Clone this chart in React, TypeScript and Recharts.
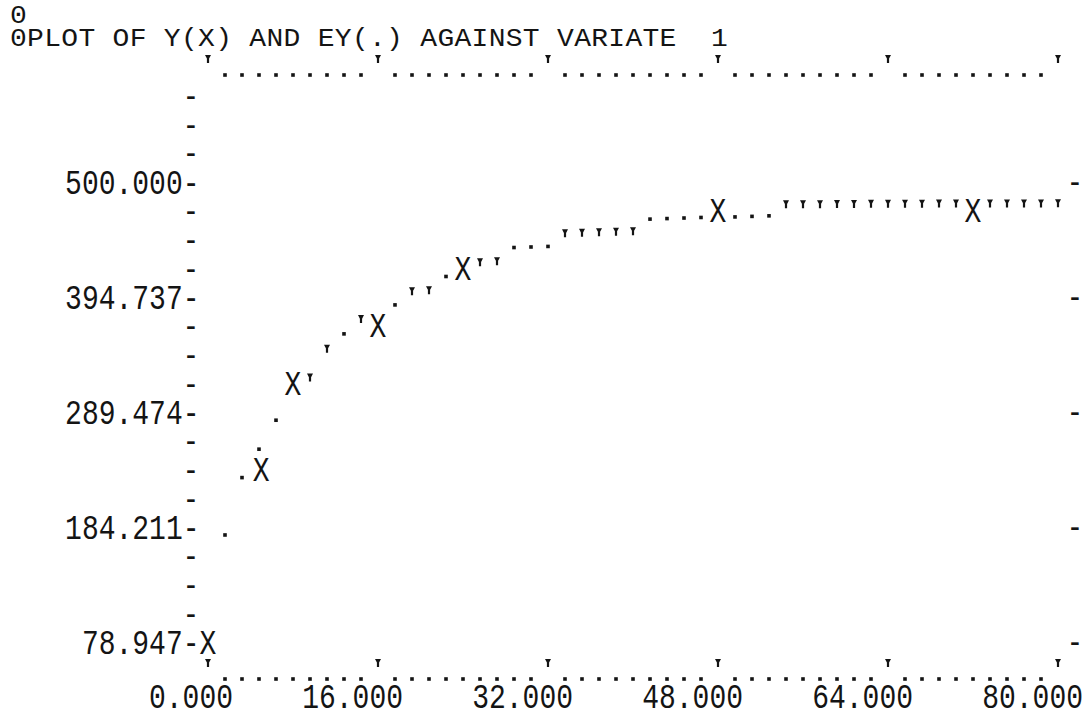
import React from 'react';
import { ScatterChart, Scatter, XAxis, YAxis } from 'recharts';

const titleLines = ['0', '0PLOT OF Y(X) AND EY(.) AGAINST VARIATE  1'];

// observed Y, printed as X
const obsX = [0, 5, 8, 16, 24, 48, 72];
const obsY = [78.9, 236.8, 315.8, 368.4, 421.1, 473.7, 473.7];

// fitted EY, printed as . (lower half of a line) or ' (upper half)
// columns overprinted by an X are left out
const fitX = [
  1.6, 3.2, 4.8, 6.4, 9.6, 11.2, 12.8, 14.4, 17.6, 19.2, 20.8, 22.4, 25.6, 27.2,
  28.8, 30.4, 32.0, 33.6, 35.2, 36.8, 38.4, 40.0, 41.6, 43.2, 44.8, 46.4, 49.6,
  51.2, 52.8, 54.4, 56.0, 57.6, 59.2, 60.8, 62.4, 64.0, 65.6, 67.2, 68.8, 70.4,
  73.6, 75.2, 76.8, 78.4, 80.0,
];
const fitY = [
  178, 230.5, 256.5, 283, 322, 348.5, 362, 375.5, 388.5, 401, 402, 414.5, 427.5, 428.5,
  441, 441.5, 442, 454, 454.5, 455, 455.5, 456, 467, 467.5, 468, 468.5, 469,
  469.5, 470, 480.5, 480.6, 480.7, 480.8, 480.9, 481, 481, 481.1, 481.1, 481.2, 481.2,
  481.3, 481.3, 481.4, 481.4, 481.5,
];

const xTickLabels = ['0.000', '16.000', '32.000', '48.000', '64.000', '80.000'];
const yTickLabels = ['500.000', '394.737', '289.474', '184.211', '78.947'];
const yLabelValues = [500, 394.737, 289.474, 184.211, 78.947];
const yRowTicks = [
  578.947, 552.632, 526.316, 500, 473.684, 447.368, 421.053, 394.737, 368.421, 342.105,
  315.789, 289.474, 263.158, 236.842, 210.526, 184.211, 157.895, 131.579, 105.263, 78.947,
];

const Y_MIN = 52.632;
const Y_MAX = 605.263;
const ROW = 26.316;

// one printer column = 1.6 units of x
const xColumnTicks = Array.from({ length: 51 }, (_, i) => (i * 16) / 10);

const obsData = obsX.map((x, i) => ({ x, y: obsY[i] }));
const fitData = fitX.map((x, i) => ({ x, y: fitY[i] }));

const INK = '#141414';
const FONT = '"Liberation Mono", "DejaVu Sans Mono", monospace';
const CELL = 17;

const Print = ({ x, y, anchor = 'middle', spacing = 0, stretch = 1.25, children }: any) => (
  <text
    transform={`translate(${x},${y}) scale(1,${stretch})`}
    y={8.4}
    textAnchor={anchor}
    fontFamily={FONT}
    fontSize={28}
    letterSpacing={spacing}
    fill={INK}
    style={{ whiteSpace: 'pre' }}
  >
    {children}
  </text>
);

// a lone "-" on the axis, kept in a smaller line box so neighbours don't collide
const Minus = ({ x, y }: any) => (
  <text
    transform={`translate(${x},${y}) scale(1.2,1)`}
    y={6.2}
    textAnchor="middle"
    fontFamily={FONT}
    fontSize={22}
    fontWeight="bold"
    fill={INK}
  >
    -
  </text>
);

// the printer's apostrophe
const Quote = ({ x, y }: any) => (
  <path d={`M${x - 3},${y - 4}h6l-1.9,3.6v4.4h-2.2v-4.4z`} fill={INK} />
);

const Dot = ({ x, y }: any) => (
  <rect x={x - 1.8} y={y - 1.8} width={3.6} height={3.6} fill={INK} />
);

const BottomTick = (props: any) => {
  const { x, y, index } = props;
  if (index % 10 !== 0) return <Dot x={x} y={y + 7} />;
  return (
    <g>
      <Quote x={x} y={y - 9} />
      <Print x={x + 25} y={y + 25} anchor="end">{xTickLabels[index / 10]}</Print>
    </g>
  );
};

const TopTick = (props: any) => {
  const { x, y, index } = props;
  return index % 10 === 0 ? <Quote x={x} y={y - 9} /> : <Dot x={x} y={y + 7} />;
};

const LeftTick = (props: any) => {
  const { x, y, payload } = props;
  const i = yLabelValues.findIndex((v) => Math.abs(v - payload.value) < 0.01);
  if (i >= 0) {
    return <Print x={x - CELL / 2} y={y} anchor="end">{yTickLabels[i] + '-'}</Print>;
  }
  return <Minus x={x - CELL} y={y} />;
};

const RightTick = (props: any) => <Minus x={props.x + CELL} y={props.y} />;

const ObsMark = (props: any) => <Print x={props.cx} y={props.cy}>X</Print>;

const FitMark = (props: any) => {
  const { cx, cy, payload } = props;
  const t = (payload.y - Y_MIN) / ROW;
  return t - Math.round(t) < 0 ? <Dot x={cx} y={cy} /> : <Quote x={cx} y={cy} />;
};

export default function App() {
  return (
    <div style={{ position: 'absolute', left: 0, top: 0, width: 1085, height: 718, background: '#fff' }}>
      <ScatterChart width={1085} height={718} margin={{ top: 67, right: 26, bottom: 45, left: 207 }}>
        <XAxis
          xAxisId="bottom"
          type="number"
          dataKey="x"
          domain={[0, 80]}
          ticks={xColumnTicks}
          interval={0}
          height={1}
          tickSize={0}
          tickMargin={0}
          axisLine={false}
          tickLine={false}
          tick={BottomTick}
        />
        <XAxis
          xAxisId="top"
          orientation="top"
          type="number"
          dataKey="x"
          domain={[0, 80]}
          ticks={xColumnTicks}
          interval={0}
          height={1}
          tickSize={0}
          tickMargin={0}
          axisLine={false}
          tickLine={false}
          allowDataOverflow
          tick={TopTick}
        />
        <YAxis
          yAxisId="left"
          type="number"
          dataKey="y"
          domain={[Y_MIN, Y_MAX]}
          ticks={yRowTicks}
          interval={0}
          width={1}
          tickSize={0}
          tickMargin={0}
          axisLine={false}
          tickLine={false}
          tick={LeftTick}
        />
        <YAxis
          yAxisId="right"
          orientation="right"
          type="number"
          dataKey="y"
          domain={[Y_MIN, Y_MAX]}
          ticks={yLabelValues}
          interval={0}
          width={1}
          tickSize={0}
          tickMargin={0}
          axisLine={false}
          tickLine={false}
          allowDataOverflow
          tick={RightTick}
        />
        <Scatter xAxisId="bottom" yAxisId="left" data={fitData} shape={FitMark} isAnimationActive={false} />
        <Scatter xAxisId="bottom" yAxisId="left" data={obsData} shape={ObsMark} isAnimationActive={false} />
      </ScatterChart>
      <svg width={1085} height={60} style={{ position: 'absolute', left: 0, top: 0, pointerEvents: 'none' }}>
        <Print x={10} y={15} anchor="start" stretch={0.9}>{titleLines[0]}</Print>
        <Print x={10} y={38} anchor="start" stretch={0.9} spacing={0.3}>{titleLines[1]}</Print>
      </svg>
    </div>
  );
}
